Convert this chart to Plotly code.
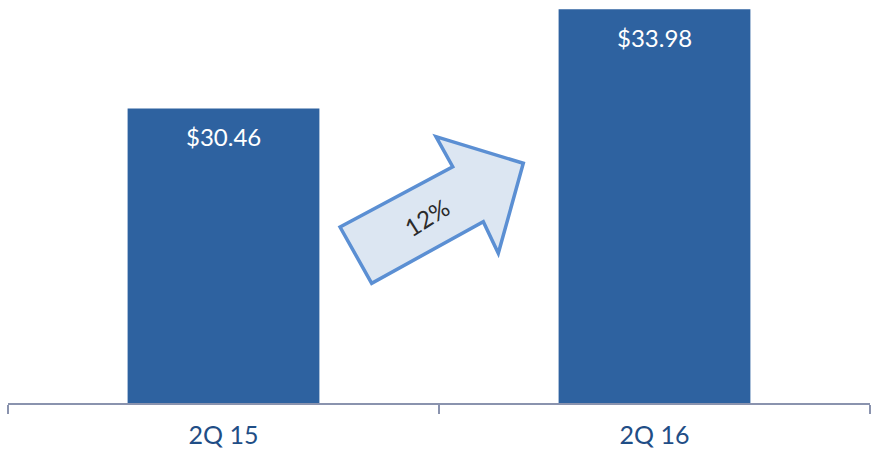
import plotly.graph_objects as go

# Quarterly values
quarters = ["2Q 15", "2Q 16"]
values = [30.46, 33.98]
value_labels = ["$30.46", "$33.98"]
growth_label = "12%"

bar_color = "#2E62A0"
axis_color = "#8A93AE"
label_color = "#1F4E86"
font_family = "Lato, 'Open Sans', sans-serif"

fig = go.Figure()
fig.add_trace(go.Bar(
    x=quarters,
    y=values,
    marker=dict(color=bar_color, line=dict(width=0)),
    hoverinfo="skip",
))

# value labels inside the top of each bar
for q, v, t in zip(quarters, values, value_labels):
    fig.add_annotation(
        x=q, y=v, text=t, showarrow=False, yshift=-28,
        font=dict(family=font_family, size=24, color="white"),
    )

# block arrow between the bars (paper coordinates)
W, H = 862.0, 403.0
X0, Y0 = 8.0, 0.0
pts = [(340, 227), (452.7, 166.7), (436, 136.7), (523.3, 163.3),
       (498.3, 253.3), (483.3, 221.7), (371.7, 283.3)]


def to_paper(p):
    return ((p[0] - X0) / W, 1 - (p[1] - Y0) / H)


path = "M " + " L ".join(f"{to_paper(p)[0]:.4f},{to_paper(p)[1]:.4f}" for p in pts) + " Z"
fig.add_shape(
    type="path", xref="paper", yref="paper", path=path,
    fillcolor="#DCE6F2", line=dict(color="#5B8FD3", width=3.5), layer="above",
)
cx, cy = to_paper((426, 217))
fig.add_annotation(
    xref="paper", yref="paper", x=cx, y=cy, text=growth_label, showarrow=False,
    textangle=-32, font=dict(family=font_family, size=24, color="#2B2B2B"),
)

fig.update_layout(
    width=885, height=462,
    margin=dict(l=8, r=15, t=0, b=59),
    paper_bgcolor="white", plot_bgcolor="white",
    bargap=0.555, showlegend=False,
    xaxis=dict(
        showline=True, linecolor=axis_color, linewidth=2,
        ticks="outside", tickson="boundaries", ticklen=9, tickwidth=2, tickcolor=axis_color,
        tickfont=dict(family=font_family, size=25, color=label_color),
        ticklabelstandoff=9, showgrid=False, zeroline=False,
    ),
    yaxis=dict(range=[20, 34.31], visible=False, showgrid=False, zeroline=False),
)

fig.write_html("out.html")
